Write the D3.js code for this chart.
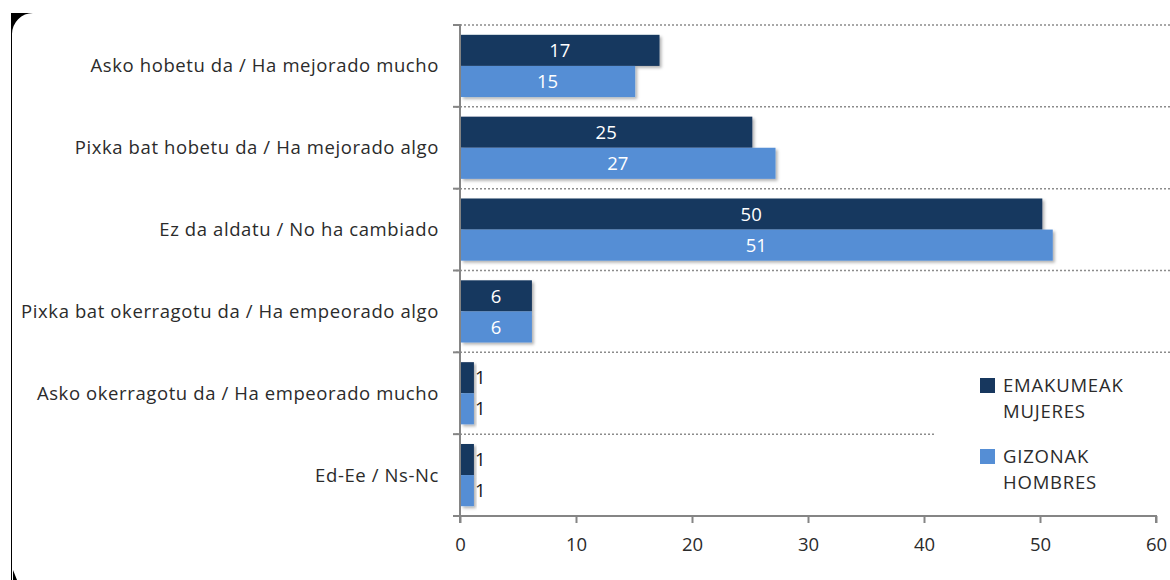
<!DOCTYPE html>
<html>
<head>
<meta charset="utf-8">
<script src="https://cdn.jsdelivr.net/npm/d3@7"></script>
<style>
	body { margin: 0; background: #fff; }
	svg { display: block; font-family: 'Open Sans', sans-serif; }
</style>
</head>
<body>
<script>
// categories top to bottom
var categories = [
	'Asko hobetu da / Ha mejorado mucho',
	'Pixka bat hobetu da / Ha mejorado algo',
	'Ez da aldatu / No ha cambiado',
	'Pixka bat okerragotu da / Ha empeorado algo',
	'Asko okerragotu da / Ha empeorado mucho',
	'Ed-Ee / Ns-Nc'
];
var seriesNames = ['EMAKUMEAK\nMUJERES', 'GIZONAK\nHOMBRES'];
var women = [17.2, 25.2, 50.2, 6.2, 1.2, 1.2];
var men = [15.1, 27.2, 51.1, 6.2, 1.2, 1.2];
var xTicks = [0, 10, 20, 30, 40, 50, 60];
var colors = ['#17375e', '#558ed5'];

var width = 1170, height = 580;
var fontSize = 18.5;

var svg = d3.select('body').append('svg')
	.attr('width', width)
	.attr('height', height);

// drop shadow for the bars
var shadow = svg.append('defs').append('filter')
	.attr('id', 'shadow')
	.attr('x', '-10%').attr('y', '-10%')
	.attr('width', '130%').attr('height', '140%');
shadow.append('feDropShadow')
	.attr('dx', 2).attr('dy', 2)
	.attr('stdDeviation', 1.5)
	.attr('flood-color', '#000')
	.attr('flood-opacity', 0.3);

// chart frame, left edge only visible
svg.append('path')
	.attr('d', 'M11,13 H33 A21,21 0 0 0 12,34 V580 H11 Z')
	.attr('fill', '#000');
svg.append('path')
	.attr('d', 'M13,580 L13,570 L17,580 Z')
	.attr('fill', '#000');

var xScale = d3.scaleLinear().domain([0, 60]).range([460, 1156]);
var yScale = d3.scaleBand().domain(d3.range(categories.length)).range([25, 516])
	.paddingInner(0.24).paddingOuter(0.12);
var inner = d3.scaleBand().domain([0, 1]).range([0, yScale.bandwidth()]);
var step = yScale.step();

// dotted gridlines at category boundaries
var grid = svg.append('g');
d3.range(categories.length).forEach(function(i) {
	var y = 25 + i * step;
	grid.append('line')
		.attr('x1', 456).attr('x2', i === 5 ? 935 : 1170)
		.attr('y1', y).attr('y2', y)
		.attr('stroke', '#8c8c8c')
		.attr('stroke-width', 1.5)
		.attr('stroke-dasharray', '2,2');
});

// y axis with boundary ticks
var yAxis = svg.append('g');
yAxis.append('line')
	.attr('x1', 460).attr('x2', 460)
	.attr('y1', 24).attr('y2', 517)
	.attr('stroke', '#858585').attr('stroke-width', 2);
d3.range(categories.length + 1).forEach(function(i) {
	var y = 25 + i * step;
	yAxis.append('line')
		.attr('x1', 453).attr('x2', 460)
		.attr('y1', y).attr('y2', y)
		.attr('stroke', '#858585').attr('stroke-width', 2);
});

// category labels
svg.append('g').selectAll('text')
	.data(categories)
	.join('text')
	.attr('x', 439)
	.attr('y', function(d, i) { return yScale(i) + yScale.bandwidth() / 2; })
	.attr('dy', '0.35em')
	.attr('text-anchor', 'end')
	.attr('font-size', fontSize)
	.attr('letter-spacing', 0.6)
	.attr('fill', '#2b2b2b')
	.text(function(d) { return d; });

// x axis
var xAxis = d3.axisBottom(xScale).tickValues(xTicks).tickSize(7).tickPadding(15)
	.tickFormat(d3.format('d'));
var gx = svg.append('g')
	.attr('transform', 'translate(0,516)')
	.call(xAxis);
gx.select('.domain').attr('stroke', '#858585').attr('stroke-width', 2)
	.attr('d', 'M460,7V0H1156V7');
gx.selectAll('.tick line').attr('stroke', '#858585').attr('stroke-width', 2);
gx.selectAll('.tick text')
	.attr('font-size', fontSize)
	.attr('font-family', "'Open Sans', sans-serif")
	.attr('fill', '#2b2b2b');

// bars
var rows = [];
categories.forEach(function(c, i) {
	rows.push({ cat: i, s: 0, v: women[i] });
	rows.push({ cat: i, s: 1, v: men[i] });
});

var bars = svg.append('g');
bars.selectAll('rect')
	.data(rows)
	.join('rect')
	.attr('x', xScale(0) + 1)
	.attr('y', function(d) { return yScale(d.cat) + inner(d.s); })
	.attr('width', function(d) { return xScale(d.v) - xScale(0) - 1; })
	.attr('height', inner.bandwidth())
	.attr('fill', function(d) { return colors[d.s]; })
	.attr('filter', 'url(#shadow)');

// value labels
var fmt = d3.format('.0f');
function inside(d) { return xScale(d.v) - xScale(0) > 40; }
bars.selectAll('text')
	.data(rows)
	.join('text')
	.attr('x', function(d) {
		return inside(d) ? (xScale(0) + xScale(d.v)) / 2 : xScale(d.v) + 1;
	})
	.attr('y', function(d) { return yScale(d.cat) + inner(d.s) + inner.bandwidth() / 2; })
	.attr('dy', '0.36em')
	.attr('text-anchor', function(d) { return inside(d) ? 'middle' : 'start'; })
	.attr('font-size', fontSize)
	.attr('fill', function(d) { return inside(d) ? '#fff' : '#1a1a1a'; })
	.text(function(d) { return fmt(d.v); });

// legend
var legend = svg.append('g');
seriesNames.forEach(function(name, i) {
	var y0 = 378 + i * 71;
	legend.append('rect')
		.attr('x', 980).attr('y', y0)
		.attr('width', 15).attr('height', 15)
		.attr('fill', colors[i]);
	name.split('\n').forEach(function(line, j) {
		legend.append('text')
			.attr('x', 1003)
			.attr('y', y0 + 8 + j * 26)
			.attr('dy', '0.35em')
			.attr('font-size', fontSize)
			.attr('letter-spacing', 0.8)
			.attr('fill', '#2b2b2b')
			.text(line);
	});
});
</script>
</body>
</html>
